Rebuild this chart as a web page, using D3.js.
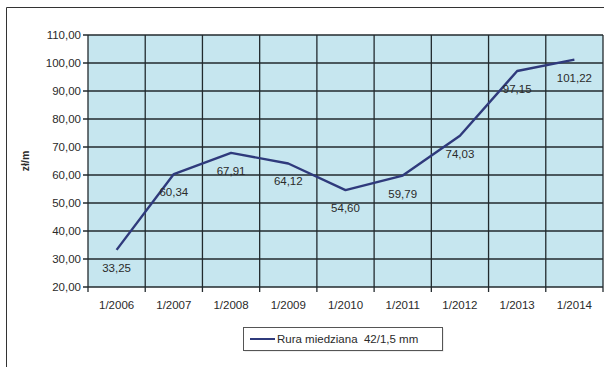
<!DOCTYPE html>
<html>
<head>
<meta charset="utf-8">
<script src="https://cdn.jsdelivr.net/npm/d3@7"></script>
<style>
  body { margin: 0; background: #fff; }
  text { font-family: "Liberation Sans", Arial, sans-serif; fill: #2a2a2a; }
</style>
</head>
<body>
<div id="chart"></div>
<script>
var categories = ['1/2006', '1/2007', '1/2008', '1/2009', '1/2010', '1/2011', '1/2012', '1/2013', '1/2014']
var values = [33.25, 60.34, 67.91, 64.12, 54.60, 59.79, 74.03, 97.15, 101.22]
var yTicks = [20, 30, 40, 50, 60, 70, 80, 90, 100, 110]
var seriesName = 'Rura miedziana  42/1,5 mm'
var yTitle = 'zł/m'

width = 604
height = 367
// plot area edges (note: "top" is reserved on window)
var plotL = 88, plotR = 603, plotT = 35, plotB = 287

var fmt = function(v) { return d3.format('.2f')(v).replace('.', ',') }

var svg = d3.select('#chart').append('svg').attr('width', width).attr('height', height)

// outer frame
svg.append('path').attr('d', 'M6.5,' + (height + 2) + 'V7.5H' + (width + 2))
  .attr('fill', 'none').attr('stroke', '#333').attr('stroke-width', 1)

x = d3.scaleBand().domain(categories).range([plotL, plotR]).padding(0)
y = d3.scaleLinear().domain([20, 110]).range([plotB, plotT])

svg.append('rect').attr('x', plotL).attr('y', plotT).attr('width', plotR - plotL).attr('height', plotB - plotT)
  .attr('fill', '#c6e6ef')

// horizontal grid
svg.append('g').selectAll('line').data(yTicks).join('line')
  .attr('x1', plotL - 5).attr('x2', plotR)
  .attr('y1', d => y(d)).attr('y2', d => y(d))
  .attr('stroke', '#222a2e').attr('stroke-width', 1.3)

// vertical grid at category boundaries
var bounds = categories.map(c => x(c)).concat([plotR])
svg.append('g').selectAll('line').data(bounds).join('line')
  .attr('x1', d => d).attr('x2', d => d)
  .attr('y1', plotT).attr('y2', plotB + 5)
  .attr('stroke', '#222a2e').attr('stroke-width', 1.3)

svg.append('g').selectAll('text').data(yTicks).join('text')
  .attr('x', plotL - 7).attr('y', d => y(d)).attr('dy', '0.35em')
  .attr('text-anchor', 'end').attr('font-size', 11.5)
  .text(d => fmt(d))

svg.append('g').selectAll('text').data(categories).join('text')
  .attr('x', d => x(d) + x.bandwidth() / 2).attr('y', 305).attr('dy', '0.35em')
  .attr('text-anchor', 'middle').attr('font-size', 11.5)
  .text(d => d)

svg.append('text').attr('transform', 'translate(29,161) rotate(-90)')
  .attr('text-anchor', 'middle').attr('font-size', 10.5).attr('font-weight', 'bold')
  .text(yTitle)

var line = d3.line().x((d, i) => x(categories[i]) + x.bandwidth() / 2).y(d => y(d))
svg.append('path').datum(values).attr('d', line)
  .attr('fill', 'none').attr('stroke', '#2f3a7c').attr('stroke-width', 2.4)
  .attr('stroke-linejoin', 'round')

svg.append('g').selectAll('text').data(values).join('text')
  .attr('x', (d, i) => x(categories[i]) + x.bandwidth() / 2)
  .attr('y', d => y(d) + 18).attr('dy', '0.35em')
  .attr('text-anchor', 'middle').attr('font-size', 11.5)
  .text(d => fmt(d))

// legend
var lg = svg.append('g').attr('transform', 'translate(243,327)')
lg.append('rect').attr('x', 1.5).attr('y', 1.5).attr('width', 199).attr('height', 23).attr('fill', '#ddd')
lg.append('rect').attr('x', 0.5).attr('y', 0.5).attr('width', 199).attr('height', 23)
  .attr('fill', '#fff').attr('stroke', '#555')
lg.append('line').attr('x1', 7).attr('x2', 32).attr('y1', 12).attr('y2', 12)
  .attr('stroke', '#2f3a7c').attr('stroke-width', 2)
lg.append('text').attr('x', 34).attr('y', 12).attr('dy', '0.35em').attr('font-size', 11.5)
  .attr('xml:space', 'preserve').style('white-space', 'pre')
  .text(seriesName)
</script>
</body>
</html>
